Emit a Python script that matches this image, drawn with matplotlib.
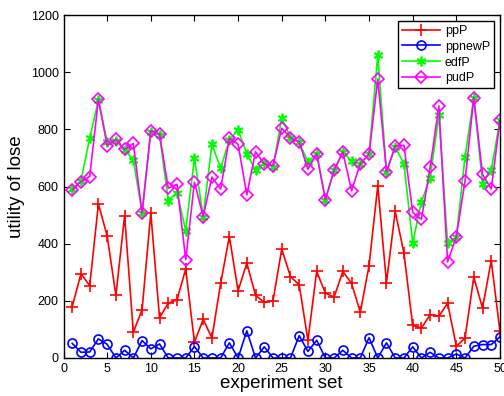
import matplotlib
matplotlib.use('Agg')
import matplotlib.pyplot as plt
import numpy as np

plt.rcParams['font.family'] = ['Liberation Sans', 'DejaVu Sans']

# experiment sets 1..50
sets = np.arange(1, 51)

ppP = [180, 295, 253, 539, 427, 219, 497, 90, 169, 507,
       141, 192, 203, 312, 55, 135, 70, 261, 425, 235,
       332, 219, 195, 200, 381, 285, 256, 62, 303, 227,
       213, 303, 261, 160, 323, 602, 264, 513, 367, 114,
       105, 151, 146, 192, 41, 70, 283, 175, 341, 93]

ppnewP = [51, 20, 21, 67, 48, 0, 27, 0, 61, 32,
          49, 0, 0, 0, 40, 0, 0, 0, 53, 0,
          95, 0, 39, 0, 0, 0, 78, 23, 62, 0,
          0, 27, 0, 0, 71, 0, 53, 0, 0, 39,
          0, 20, 0, 0, 14, 0, 41, 47, 47, 74]

edfP = [591, 621, 769, 902, 757, 760, 728, 693, 509, 792,
        780, 551, 579, 445, 699, 495, 748, 664, 763, 798,
        714, 658, 684, 668, 840, 771, 756, 686, 715, 554,
        657, 721, 689, 680, 713, 1060, 651, 738, 680, 403,
        546, 631, 849, 403, 424, 704, 911, 610, 657, 832]

pudP = [588, 617, 635, 905, 743, 765, 730, 751, 507, 795,
        784, 594, 608, 344, 615, 495, 633, 591, 769, 748,
        571, 722, 679, 673, 804, 771, 756, 660, 715, 554,
        657, 721, 585, 680, 713, 976, 651, 742, 744, 510,
        485, 667, 882, 336, 424, 620, 911, 643, 591, 832]

fig = plt.figure(figsize=(5.04, 3.96), dpi=100)
ax = fig.add_axes([0.126, 0.096, 0.866, 0.866])

# asterisk marker like matlab '*'
ast = (6, 2, 0)

ax.plot(sets, ppP, color='#ff0000', marker='+', markersize=8, mew=1.2, lw=1.2, label='ppP')
ax.plot(sets, ppnewP, color='#0000ff', marker='o', markersize=6.5, mfc='none', mew=1.2, lw=1.2, label='ppnewP')
ax.plot(sets, edfP, color='#00ff00', marker=ast, markersize=7, mew=1.3, lw=1.2, label='edfP')
ax.plot(sets, pudP, color='#ff00ff', marker='D', markersize=6, mfc='none', mew=1.2, lw=1.2, label='pudP')

ax.set_xlim([0, 50])
ax.set_ylim([0, 1200])
ax.set_xticks(np.arange(0, 51, 5))
ax.set_yticks(np.arange(0, 1201, 200))
ax.tick_params(direction='in', top=True, right=True, length=4, width=0.8, labelsize=9)
for s in ax.spines.values():
    s.set_linewidth(1.0)

ax.set_xlabel('experiment set', fontsize=13.5, labelpad=0)
ax.set_ylabel('utility of lose', fontsize=13.5, labelpad=4)

leg = ax.legend(loc='upper right', fontsize=9, handlelength=3, borderaxespad=0.5,
                fancybox=False, framealpha=1, edgecolor='black',
                labelspacing=0.3, borderpad=0.3, handletextpad=0.4)
leg.get_frame().set_linewidth(1.0)

fig.savefig('out.png', dpi=100)
